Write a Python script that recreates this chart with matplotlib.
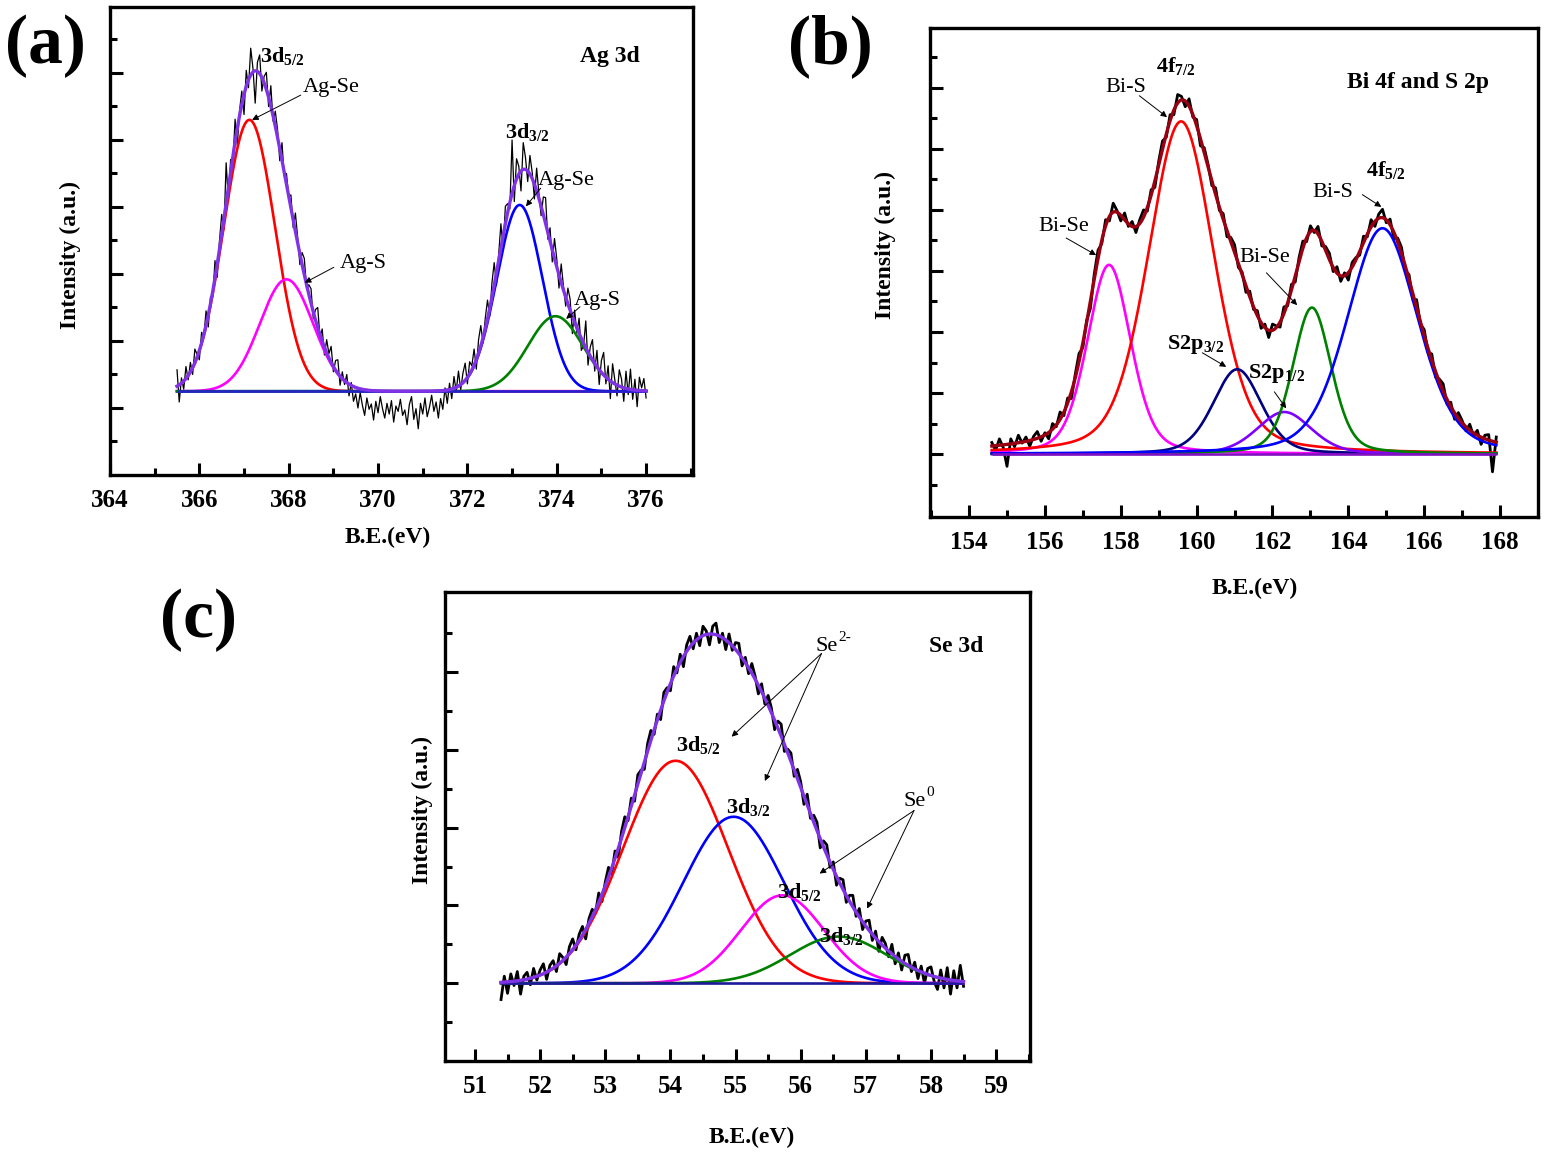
import numpy as np
import matplotlib
matplotlib.use("Agg")
import matplotlib.pyplot as plt
from matplotlib.ticker import MultipleLocator

plt.rcParams["font.family"] = ["Liberation Serif", "DejaVu Serif"]
plt.rcParams["mathtext.fontset"] = "custom"
plt.rcParams["mathtext.rm"] = "Liberation Serif"
plt.rcParams["mathtext.bf"] = "Liberation Serif:bold"
plt.rcParams["mathtext.it"] = "Liberation Serif:italic"

W, H = 1546, 1155

# ---------------- (a) Ag 3d ----------------
# fitted components: Ag-Se 3d5/2, Ag-S 3d5/2, Ag-Se 3d3/2, Ag-S 3d3/2
a_center = [367.12, 367.95, 373.17, 373.97]
a_height = [4.05, 1.67, 2.78, 1.12]
a_fwhm = [1.35, 1.40, 1.20, 1.45]
a_colors = ["#ff0000", "#ff00ff", "#0000ff", "#008000"]
a_base = 1.25
# measured spectrum, 365.5 .. 376.0 eV every 0.05 eV
a_energy = np.round(np.arange(365.5, 376.0 + 1e-6, 0.05), 2)
a_counts = [
    1.57, 1.09, 1.45, 1.28, 1.62, 1.42, 1.68, 1.50, 1.88, 1.80,
    1.72, 2.13, 2.06, 2.45, 2.21, 2.66, 2.66, 3.20, 2.95, 3.49,
    3.89, 3.66, 4.66, 4.08, 4.71, 4.66, 5.31, 4.92, 5.44, 5.73,
    5.38, 6.04, 5.78, 6.37, 6.07, 5.55, 6.16, 6.27, 5.73, 5.95,
    6.01, 5.50, 5.81, 5.28, 5.43, 5.16, 4.69, 4.96, 4.46, 4.50,
    4.16, 4.18, 3.69, 3.91, 3.55, 3.14, 3.32, 3.23, 2.78, 2.84,
    2.78, 2.33, 2.47, 2.50, 2.05, 2.18, 1.79, 2.02, 1.81, 1.92,
    1.54, 1.71, 1.72, 1.34, 1.54, 1.35, 1.50, 1.18, 1.38, 1.10,
    1.21, 1.00, 1.23, 1.04, 0.89, 1.15, 0.98, 1.06, 0.82, 1.10,
    0.93, 1.17, 0.99, 0.85, 1.07, 0.91, 1.11, 0.79, 1.03, 0.95,
    1.13, 0.89, 0.97, 0.75, 1.05, 1.17, 0.83, 0.99, 0.69, 1.07,
    0.91, 1.15, 0.87, 1.01, 1.19, 0.95, 1.09, 0.85, 1.14, 0.98,
    1.30, 1.07, 1.37, 1.14, 1.47, 1.25, 1.55, 1.27, 1.52, 1.67,
    1.36, 1.69, 1.63, 1.88, 1.58, 2.02, 2.23, 1.97, 2.34, 2.61,
    2.37, 2.87, 3.17, 2.83, 3.30, 3.75, 3.37, 4.01, 4.05, 3.97,
    5.00, 4.08, 4.72, 4.61, 4.24, 4.96, 4.74, 4.38, 4.77, 4.52,
    4.12, 4.58, 4.21, 3.87, 4.15, 4.14, 3.52, 3.69, 3.18, 3.53,
    3.23, 2.79, 3.15, 2.82, 2.52, 2.79, 2.62, 2.11, 2.46, 2.12,
    2.34, 1.86, 1.93, 2.30, 1.64, 1.91, 2.02, 1.55, 1.86, 1.35,
    1.71, 1.83, 1.36, 1.63, 1.14, 1.66, 1.42, 1.18, 1.57, 1.43,
    1.10, 1.55, 1.20, 1.58, 1.13, 1.43, 1.02, 1.46, 1.30, 1.44,
    1.15,
]

# ---------------- (b) Bi 4f and S 2p ----------------
# Bi-Se 4f7/2, Bi-S 4f7/2, S2p3/2, S2p1/2, Bi-Se 4f5/2, Bi-S 4f5/2
b_center = [157.69, 159.59, 161.07, 162.31, 163.04, 164.90]
b_height = [3.10, 5.45, 1.39, 0.69, 2.40, 3.70]
b_fwhm = [1.35, 2.05, 1.50, 1.70, 1.20, 2.20]
b_colors = ["#ff00ff", "#ff0000", "#000080", "#8000ff", "#008000", "#0000ff"]
b_base = 0.0
b_energy = np.round(np.arange(154.6, 167.9 + 1e-6, 0.1), 2)
b_counts = [
    0.19, 0.06, 0.25, 0.11, -0.20, 0.25, 0.12, 0.31, 0.18, 0.28,
    0.13, 0.29, 0.37, 0.21, 0.35, 0.25, 0.50, 0.45, 0.69, 0.63,
    0.92, 0.91, 1.31, 1.65, 1.74, 2.19, 2.39, 2.95, 3.34, 3.45,
    3.84, 3.82, 4.11, 3.99, 3.82, 3.95, 3.73, 3.81, 3.63, 3.84,
    4.00, 3.98, 4.33, 4.37, 4.80, 5.13, 5.19, 5.56, 5.56, 5.89,
    5.86, 5.69, 5.82, 5.52, 5.48, 5.05, 5.02, 4.75, 4.40, 4.36,
    3.99, 3.94, 3.56, 3.55, 3.43, 3.06, 2.98, 2.65, 2.67, 2.37,
    2.35, 2.06, 2.13, 1.91, 2.13, 2.10, 2.08, 2.41, 2.43, 2.78,
    2.82, 3.22, 3.49, 3.48, 3.74, 3.63, 3.73, 3.41, 3.40, 3.29,
    2.99, 3.07, 2.83, 2.97, 2.85, 3.14, 3.22, 3.26, 3.57, 3.56,
    3.84, 3.73, 3.93, 4.01, 3.79, 3.85, 3.53, 3.54, 3.39, 3.01,
    2.94, 2.53, 2.53, 2.13, 2.04, 1.67, 1.64, 1.26, 1.23, 1.15,
    0.82, 0.85, 0.57, 0.68, 0.55, 0.38, 0.49, 0.30, 0.39, 0.16,
    0.31, 0.32, -0.29, 0.28,
]

# ---------------- (c) Se 3d ----------------
# Se2- 3d5/2, Se2- 3d3/2, Se0 3d5/2, Se0 3d3/2
c_center = [54.08, 54.97, 55.72, 56.58]
c_height = [2.86, 2.14, 1.13, 0.60]
c_fwhm = [1.90, 1.82, 1.50, 1.75]
c_colors = ["#ff0000", "#0000ff", "#ff00ff", "#008000"]
c_base = 0.0
c_energy = np.round(np.arange(51.4, 58.5 + 1e-6, 0.05), 2)
c_counts = [
    -0.21, 0.09, -0.13, 0.12, -0.03, 0.15, -0.14, 0.09, 0.14, -0.02,
    0.19, 0.04, 0.17, 0.25, 0.05, 0.23, 0.29, 0.15, 0.38, 0.33,
    0.24, 0.47, 0.57, 0.43, 0.63, 0.73, 0.57, 0.83, 0.95, 0.90,
    1.16, 1.05, 1.30, 1.49, 1.41, 1.70, 1.62, 1.95, 2.14, 2.09,
    2.38, 2.34, 2.68, 2.74, 2.75, 3.08, 3.25, 3.20, 3.46, 3.39,
    3.74, 3.80, 3.76, 4.07, 3.99, 4.23, 4.07, 4.35, 4.46, 4.30,
    4.50, 4.34, 4.59, 4.53, 4.35, 4.59, 4.63, 4.38, 4.50, 4.29,
    4.49, 4.28, 4.38, 4.37, 4.08, 4.19, 3.98, 4.11, 3.95, 3.72,
    3.85, 3.59, 3.70, 3.54, 3.26, 3.37, 3.33, 2.98, 3.01, 2.96,
    2.66, 2.75, 2.59, 2.30, 2.43, 2.12, 2.16, 2.07, 1.74, 1.83,
    1.78, 1.49, 1.56, 1.26, 1.35, 1.33, 1.04, 1.13, 1.13, 0.86,
    0.96, 0.69, 0.80, 0.81, 0.55, 0.67, 0.41, 0.59, 0.51, 0.34,
    0.50, 0.25, 0.39, 0.17, 0.36, 0.37, 0.15, 0.27, 0.06, 0.22,
    0.00, 0.19, 0.21, 0.02, -0.08, 0.17, -0.06, 0.20, -0.14, 0.16,
    -0.06, 0.23, -0.04,
]


def peak(x, c, h, w, eta=0.0):
    g = np.exp(-4 * np.log(2) * ((x - c) / w) ** 2)
    lor = 1 / (1 + 4 * ((x - c) / w) ** 2)
    return h * ((1 - eta) * g + eta * lor)


fig = plt.figure(figsize=(W / 100, H / 100), dpi=100)


def make_axes(l, t, r, b):
    return fig.add_axes([l / W, 1 - b / H, (r - l) / W, (b - t) / H])


def style(ax, xlim, ylim, xmaj, xmin, ymaj, ymin):
    ax.set_xlim(*xlim)
    ax.set_ylim(*ylim)
    ax.xaxis.set_major_locator(MultipleLocator(xmaj))
    ax.xaxis.set_minor_locator(MultipleLocator(xmin))
    ax.set_yticks(ymaj)
    ax.set_yticks(ymin, minor=True)
    ax.tick_params(which="both", direction="in", top=False, right=False,
                   labelleft=False, width=2.2, labelsize=18, pad=10)
    ax.tick_params(which="major", length=9)
    ax.tick_params(which="minor", length=5)
    for lab in ax.get_xticklabels():
        lab.set_fontweight("bold")
    for s in ax.spines.values():
        s.set_linewidth(2.4)


def draw_panel(ax, energy, counts, centers, heights, widths, colors, base,
               env_color, base_color, eta, raw_lw):
    x = np.linspace(energy[0], energy[-1], 700)
    comps = [peak(x, c, h, w, eta) for c, h, w in zip(centers, heights, widths)]
    env = base + np.sum(comps, axis=0)
    ax.plot(energy, counts, color="black", lw=raw_lw, zorder=2)
    for comp, col in zip(comps, colors):
        ax.plot(x, base + comp, color=col, lw=1.9, zorder=3)
    ax.hlines(base, energy[0], energy[-1], color=base_color, lw=1.9, zorder=3)
    ax.plot(x, env, color=env_color, lw=2.4, zorder=4)


def label(ax, txt, pos, bold=False, size=16):
    ax.text(pos[0], pos[1], txt, fontsize=size, ha="left", va="baseline",
            fontweight="bold" if bold else "normal", zorder=6)


def sup(ax, txt, pos, dx):
    ax.annotate(txt, xy=pos, xytext=(dx, 7), textcoords="offset points",
                fontsize=11, ha="left", va="baseline", zorder=6)


def arrow(ax, start, end):
    ax.annotate("", xy=end, xytext=start,
                arrowprops=dict(arrowstyle="-|>", lw=0.7, color="black",
                                mutation_scale=9, shrinkA=0, shrinkB=0), zorder=6)


# ---------- (a)
ax_a = make_axes(110, 7, 693, 475)
draw_panel(ax_a, a_energy, a_counts, a_center, a_height, a_fwhm, a_colors, a_base,
           "#8033e6", "#2323c8", 0.0, 0.9)
style(ax_a, (364, 377.05), (0, 6.985), 2, 1, np.arange(1, 7), np.arange(0.5, 7, 1))
label(ax_a, r"$\mathbf{3d}_{\mathbf{5/2}}$", (367.36, 6.16))
label(ax_a, "Ag-Se", (368.32, 5.72))
arrow(ax_a, (368.27, 5.67), (367.18, 5.30))
label(ax_a, "Ag-S", (369.14, 3.09))
arrow(ax_a, (369.01, 3.10), (368.36, 2.87))
label(ax_a, r"$\mathbf{3d}_{\mathbf{3/2}}$", (372.84, 5.03))
label(ax_a, "Ag-Se", (373.58, 4.33))
arrow(ax_a, (373.64, 4.28), (373.31, 4.01))
label(ax_a, "Ag-S", (374.39, 2.54))
arrow(ax_a, (374.52, 2.51), (374.21, 2.33))
label(ax_a, "Ag 3d", (374.52, 6.16), bold=True, size=17)

# ---------- (b)
ax_b = make_axes(930, 28, 1538, 517)
draw_panel(ax_b, b_energy, b_counts, b_center, b_height, b_fwhm, b_colors, b_base,
           "#990011", "#8010c0", 0.3, 2.0)
style(ax_b, (152.97, 169.0), (-1.03, 6.98), 2, 1, np.arange(0, 7), np.arange(-0.5, 7, 1))
label(ax_b, "Bi-S", (157.59, 5.93))
arrow(ax_b, (158.49, 5.87), (159.22, 5.52))
label(ax_b, r"$\mathbf{4f}_{\mathbf{7/2}}$", (158.93, 6.26))
label(ax_b, "Bi-Se", (155.82, 3.66))
arrow(ax_b, (156.56, 3.54), (157.35, 3.26))
label(ax_b, r"$\mathbf{S2p}_{\mathbf{3/2}}$", (159.22, 1.72))
arrow(ax_b, (160.15, 1.66), (160.78, 1.43))
label(ax_b, r"$\mathbf{S2p}_{\mathbf{1/2}}$", (161.36, 1.25))
arrow(ax_b, (162.05, 1.02), (162.36, 0.75))
label(ax_b, "Bi-Se", (161.12, 3.15))
arrow(ax_b, (161.84, 2.97), (162.65, 2.44))
label(ax_b, "Bi-S", (163.05, 4.21))
arrow(ax_b, (164.37, 4.25), (164.87, 4.05))
label(ax_b, r"$\mathbf{4f}_{\mathbf{5/2}}$", (164.47, 4.56))
label(ax_b, "Bi 4f and S 2p", (163.97, 6.0), bold=True, size=17)

# ---------- (c)
ax_c = make_axes(445, 592, 1030, 1061)
draw_panel(ax_c, c_energy, c_counts, c_center, c_height, c_fwhm, c_colors, c_base,
           "#8033e6", "#1a1a9a", 0.0, 2.0)
style(ax_c, (50.54, 59.52), (-1.0, 5.03), 1, 0.5, np.arange(0, 5), np.arange(-0.5, 5, 1))
label(ax_c, "Se", (56.23, 4.27))
sup(ax_c, "2-", (56.23, 4.27), 16.5)
arrow(ax_c, (56.32, 4.24), (54.94, 3.17))
arrow(ax_c, (56.32, 4.24), (55.45, 2.60))
label(ax_c, r"$\mathbf{3d}_{\mathbf{5/2}}$", (54.08, 2.99))
label(ax_c, r"$\mathbf{3d}_{\mathbf{3/2}}$", (54.86, 2.19))
label(ax_c, "Se", (57.58, 2.28))
sup(ax_c, "0", (57.58, 2.28), 16.5)
arrow(ax_c, (57.74, 2.22), (56.29, 1.41))
arrow(ax_c, (57.74, 2.22), (57.02, 0.96))
label(ax_c, r"$\mathbf{3d}_{\mathbf{5/2}}$", (55.63, 1.10))
label(ax_c, r"$\mathbf{3d}_{\mathbf{3/2}}$", (56.28, 0.53))
label(ax_c, "Se 3d", (57.97, 4.26), bold=True, size=17)

# panel letters and axis titles
for txt, x, y in [("(a)", 5, 46), ("(b)", 788, 46), ("(c)", 160, 620)]:
    fig.text(x / W, 1 - y / H, txt, fontsize=50, fontweight="bold", ha="left", va="center")
for x, y in [(388, 537), (1255, 588), (752, 1137)]:
    fig.text(x / W, 1 - y / H, "B.E.(eV)", fontsize=17, fontweight="bold", ha="center", va="center")
for x, y in [(70, 255), (885, 245), (422, 810)]:
    fig.text(x / W, 1 - y / H, "Intensity (a.u.)", fontsize=17, fontweight="bold",
             ha="center", va="center", rotation=90)

fig.savefig("out.png", dpi=100)
